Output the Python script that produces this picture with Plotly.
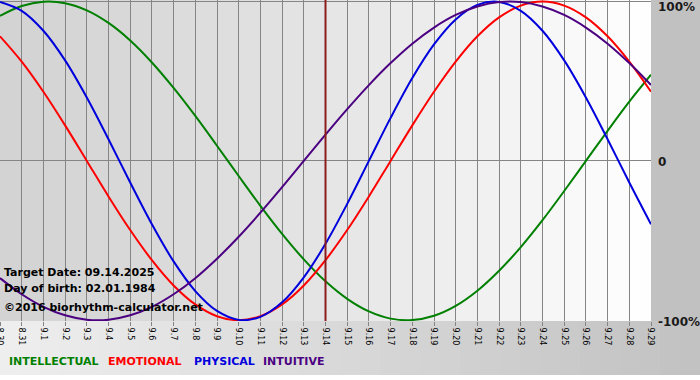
import plotly.graph_objects as go

# ---- data ----
dates = ["8.30", "8.31", "9.1", "9.2", "9.3", "9.4", "9.5", "9.6", "9.7", "9.8", "9.9",
         "9.10", "9.11", "9.12", "9.13", "9.14", "9.15", "9.16", "9.17", "9.18", "9.19",
         "9.20", "9.21", "9.22", "9.23", "9.24", "9.25", "9.26", "9.27", "9.28", "9.29"]
target_day = "9.14"

intellectual = [0.910, 0.972, 0.999, 0.990, 0.945, 0.866, 0.756, 0.618, 0.458, 0.282, 0.095,
                -0.095, -0.282, -0.458, -0.618, -0.756, -0.866, -0.945, -0.990, -0.999, -0.972,
                -0.910, -0.815, -0.690, -0.541, -0.372, -0.189, 0.000, 0.189, 0.372, 0.541]
emotional = [0.782, 0.623, 0.434, 0.223, 0.000, -0.223, -0.434, -0.623, -0.782, -0.901, -0.975,
             -1.000, -0.975, -0.901, -0.782, -0.623, -0.434, -0.223, 0.000, 0.223, 0.434,
             0.623, 0.782, 0.901, 0.975, 1.000, 0.975, 0.901, 0.782, 0.623, 0.434]
physical = [0.998, 0.942, 0.817, 0.631, 0.398, 0.136, -0.136, -0.398, -0.631, -0.817, -0.942,
            -0.998, -0.979, -0.888, -0.731, -0.520, -0.270, 0.000, 0.270, 0.520, 0.731,
            0.888, 0.979, 0.998, 0.942, 0.817, 0.631, 0.398, 0.136, -0.136, -0.398]
intuitive = [-0.736, -0.837, -0.916, -0.969, -0.997, -0.997, -0.969, -0.916, -0.837, -0.736, -0.614,
             -0.476, -0.325, -0.165, 0.000, 0.165, 0.325, 0.476, 0.614, 0.736, 0.837,
             0.916, 0.969, 0.997, 0.997, 0.969, 0.916, 0.837, 0.736, 0.614, 0.476]

series_names = ["INTELLECTUAL", "EMOTIONAL", "PHYSICAL", "INTUITIVE"]
series_values = [intellectual, emotional, physical, intuitive]
series_colors = ["#008000", "#ff0000", "#0000dd", "#4b0082"]

y_tick_vals = [1, 0, -1]
y_tick_text = ["100%", "0", "-100%"]

info_lines = ["Target Date: 09.14.2025", "Day of birth: 02.01.1984",
              "\u00a92016 biorhythm-calculator.net"]

# ---- layout geometry ----
W, H = 700, 380
PLOT_W, PLOT_H = 651, 321
ML, MT = 0, 0
MR, MB = W - PLOT_W, H - PLOT_H


def px_x(px):
    return px / PLOT_W


def px_y(py):
    return (PLOT_H - py) / PLOT_H


fig = go.Figure()

for name, vals, col in zip(series_names, series_values, series_colors):
    fig.add_trace(go.Scatter(x=dates, y=vals, mode="lines", name=name,
                             line=dict(color=col, width=2, shape="spline", smoothing=1.0),
                             showlegend=False, hoverinfo="skip"))

shapes = []
# outer background: right strip + bottom band (stepped gradient)
bottom_py = 375
nsteps = 35
for k in range(nsteps):
    xa = k * W / nsteps
    xb = (k + 1) * W / nsteps
    g = int(round(238 - (238 - 194) * (k / (nsteps - 1))))
    shapes.append(dict(type="rect", xref="paper", yref="paper",
                       x0=px_x(xa), x1=px_x(xb) + 0.002, y0=px_y(bottom_py), y1=0,
                       fillcolor=f"rgb({g},{g},{g})", line=dict(width=0), layer="below"))
shapes.append(dict(type="rect", xref="paper", yref="paper",
                   x0=1, x1=px_x(W), y0=0, y1=px_y(-2),
                   fillcolor="rgb(193,193,193)", line=dict(width=0), layer="below"))
# plot area columns (stepped gradient)
ncol = len(dates) - 1
for k in range(ncol):
    g = int(round(211 + 43 * (k / (ncol - 1)) ** 1.25))
    shapes.append(dict(type="rect", xref="x", yref="paper", x0=k, x1=k + 1, y0=0, y1=1,
                       fillcolor=f"rgb({g},{g},{g})", line=dict(width=0), layer="below"))
# target date marker
t_idx = dates.index(target_day)
shapes.append(dict(type="line", xref="x", yref="paper", x0=t_idx, x1=t_idx,
                   y0=0, y1=1, line=dict(color="#8b1c1c", width=2), layer="above"))

annotations = []
for txt, py in zip(info_lines, [272, 288, 307]):
    annotations.append(dict(text=txt, xref="paper", yref="paper", x=px_x(2), y=px_y(py),
                            xanchor="left", yanchor="middle", showarrow=False,
                            font=dict(family="DejaVu Sans", size=11, color="#000000",
                                      weight="bold")))

for val, txt, py in zip(y_tick_vals, y_tick_text, [7, 162, 322]):
    annotations.append(dict(text=txt, xref="paper", yref="paper", x=1, y=px_y(py),
                            xanchor="left", yanchor="middle", xshift=5, showarrow=False,
                            font=dict(family="DejaVu Sans", size=12, color="#1a1a1a", weight="bold")))

for name, col, px in zip(series_names, series_colors, [7, 106, 192, 261]):
    annotations.append(dict(text=name, xref="paper", yref="paper", x=px_x(px), y=px_y(361),
                            xanchor="left", yanchor="middle", showarrow=False,
                            font=dict(family="DejaVu Sans", size=11, color=col, weight="bold")))

fig.update_layout(
    width=W, height=H,
    margin=dict(l=ML, r=MR, t=MT, b=MB, pad=0, autoexpand=False),
    paper_bgcolor="#ffffff",
    plot_bgcolor="rgba(0,0,0,0)",
    shapes=shapes,
    annotations=annotations,
    xaxis=dict(type="category", categoryorder="array", categoryarray=dates,
               range=[0, len(dates) - 1], tickmode="linear", tick0=0, dtick=1,
               showgrid=True, gridcolor="#858585", gridwidth=1,
               ticks="outside", ticklen=4, tickcolor="#858585",
               tickangle=90, tickfont=dict(family="DejaVu Sans", size=8, color="#000000"),
               showline=False, zeroline=False, fixedrange=True, automargin=False),
    yaxis=dict(range=[-1.005, 1.01], tickmode="array", tickvals=y_tick_vals,
               showticklabels=False, showgrid=True, gridcolor="#858585", gridwidth=1,
               zeroline=False, showline=False, ticks="", fixedrange=True, automargin=False),
)

fig.write_html("out.html", config={"displayModeBar": False},
               post_script="document.body.style.margin='0';document.body.style.padding='0';")
